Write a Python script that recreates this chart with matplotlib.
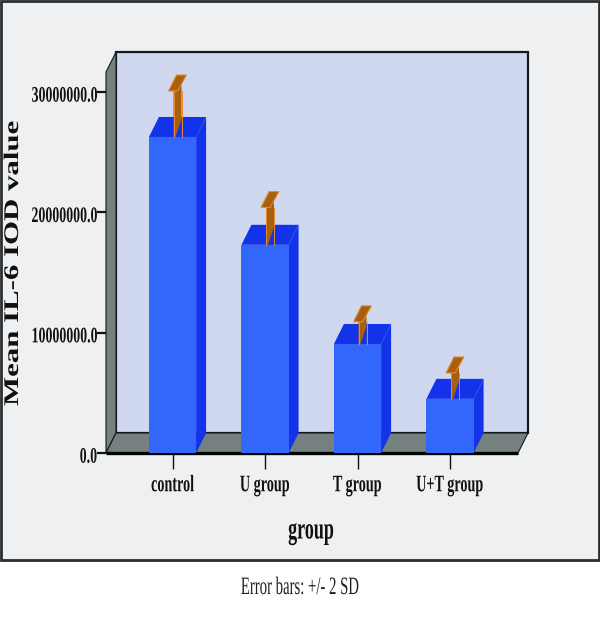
import matplotlib
matplotlib.use("Agg")
import matplotlib.pyplot as plt
from matplotlib.patches import Polygon, Rectangle
from matplotlib.patheffects import AbstractPathEffect
from matplotlib.transforms import Affine2D

# data
groups = ["control", "U group", "T group", "U+T group"]
means = [26260000, 17300000, 9060000, 4500000]
upper = [30080000, 20400000, 10900000, 6650000]  # mean + 2 SD
y_ticks = [0, 10000000, 20000000, 30000000]
y_tick_labels = ["0.0", "10000000.0", "20000000.0", "30000000.0"]

W, H = 600, 618
BG = "#eef0f2"
WALL = "#d0d8f0"
GREY = "#75817f"
FRONT = "#3366fa"
DARK = "#1233ea"
ORANGE = "#a8600f"
EDGE = "#e88a30"
DEPTH = (10, 20)
ERR_DEPTH = (8, 16)
SERIF = "Liberation Serif"


# the original text is squeezed/stretched, keep it real text
class Stretch(AbstractPathEffect):
    def __init__(self, sx=1, sy=1, anchor=0.5, shift=0):
        super().__init__()
        self.sx = sx
        self.sy = sy
        self.anchor = anchor
        self.shift = shift

    def draw_path(self, renderer, gc, tpath, affine, rgbFace=None):
        ext = tpath.get_extents()
        cx = ext.x0 + self.anchor * ext.width
        squeeze = Affine2D().translate(-cx, 0).scale(self.sx, self.sy).translate(cx, 0)
        renderer.draw_path(gc, tpath, squeeze + affine + Affine2D().translate(0, self.shift), rgbFace)


fig = plt.figure(figsize=(W / 100, H / 100), dpi=100, facecolor="white")

# grey panel behind everything
fig.add_artist(Rectangle((1 / W, 1 - 560 / H), 598 / W, 559 / H, transform=fig.transFigure,
                         facecolor=BG, edgecolor="#2a2e30", linewidth=2, zorder=-1))

# front plane of the 3d box, in pixels
left, right, bottom, top = 106, 518, 453, 72
ax = fig.add_axes([left / W, 1 - bottom / H, (right - left) / W, (bottom - top) / H])
ax.patch.set_visible(False)
for s in ax.spines.values():
    s.set_visible(False)
ax.set_xlim(-0.719, 3.735)
ax.set_ylim(0, 31660000)


def px(x, y, dx=0, dy=0):
    p = ax.transData.transform((x, y))
    return (p[0] + dx, p[1] + dy)


def poly(points, z, **kw):
    ax.add_patch(Polygon(points, closed=True, transform=None, clip_on=False, zorder=z, **kw))


x0, x1 = ax.get_xlim()
y0, y1 = ax.get_ylim()
dx, dy = DEPTH

# walls and floor
poly([px(x0, y0, dx, dy), px(x0, y1, dx, dy), px(x1, y1, dx, dy), px(x1, y0, dx, dy)], 1,
     facecolor=WALL, edgecolor="#15191c", linewidth=1.6)
poly([px(x0, y0), px(x0, y1), px(x0, y1, dx, dy), px(x0, y0, dx, dy)], 1.5,
     facecolor=GREY, edgecolor="#15191c", linewidth=0.8)
poly([px(x0, y0), px(x0, y0, dx, dy), px(x1, y0, dx, dy), px(x1, y0)], 1.5,
     facecolor=GREY, edgecolor="#15191c", linewidth=0.8)
ax.plot([x0, x1], [y0, y0], color="black", linewidth=2.4, solid_capstyle="butt", zorder=2, clip_on=False)

# bars
bar_w = 0.51
positions = list(range(len(groups)))
ax.bar(positions, means, width=bar_w, color=FRONT, linewidth=0, zorder=5)
for i in positions:
    l, r = i - bar_w / 2, i + bar_w / 2
    poly([px(l, means[i]), px(l, means[i], dx, dy), px(r, means[i], dx, dy), px(r, means[i])], 4,
         facecolor=DARK, edgecolor="none")
    poly([px(r, 0), px(r, means[i]), px(r, means[i], dx, dy), px(r, 0, dx, dy)], 4,
         facecolor=DARK, edgecolor="none")

    # error bar, only the upper half shows
    ex, ey = ERR_DEPTH
    poly([px(i, means[i], 1, 0), px(i, upper[i], 1, 0), px(i, upper[i], 1 + ex, ey), px(i, means[i], 1 + ex, 0)], 6,
         facecolor=ORANGE, edgecolor="none")
    poly([px(i, means[i], 1 + ex, 0), px(i, means[i], 1 + ex, 18), px(i, means[i], 3, 0)], 6.5,
         facecolor=DARK, edgecolor="none")
    for off in (1, 1 + ex):
        ax.plot([px(i, means[i], off)[0], px(i, upper[i], off)[0]],
                [px(i, means[i], off)[1], px(i, upper[i], off)[1]],
                color=EDGE, linewidth=0.7, transform=None, clip_on=False, zorder=7)
    poly([px(i, upper[i], -4, 0), px(i, upper[i], 5, 0), px(i, upper[i], 14, ey), px(i, upper[i], 4, ey)], 8,
         facecolor=ORANGE, edgecolor=EDGE, linewidth=0.8)

# ticks and labels
ax.set_yticks(y_ticks)
ax.set_yticklabels(y_tick_labels, family=SERIF, fontweight="bold", fontsize=10, color="#111111",
                   path_effects=[Stretch(sy=1.6, shift=-4.7)])
ax.tick_params(axis="y", length=6.5, width=1.6, pad=0, color="#111111")
ax.set_xticks(positions)
ax.set_xticklabels(groups, family=SERIF, fontweight="bold", fontsize=17, color="#111111",
                   path_effects=[Stretch(sx=0.6)])
ax.tick_params(axis="x", length=11.5, width=1, pad=4.5, color="#111111")

fig.text(13 / W, 1 - 263 / H, "Mean IL-6 IOD value", family=SERIF, fontweight="bold", fontsize=15,
         rotation=90, ha="center", va="center", color="#111111", path_effects=[Stretch(sx=1.48)])
fig.text(311 / W, 1 - 531 / H, "group", family=SERIF, fontweight="bold", fontsize=22,
         ha="center", va="center", color="#111111", path_effects=[Stretch(sx=0.59)])
fig.text(300 / W, 1 - 588 / H, "Error bars: +/- 2 SD", family=SERIF, fontsize=18,
         ha="center", va="center", color="#1c2226", path_effects=[Stretch(sx=0.59)])

fig.savefig("out.png", dpi=100)
